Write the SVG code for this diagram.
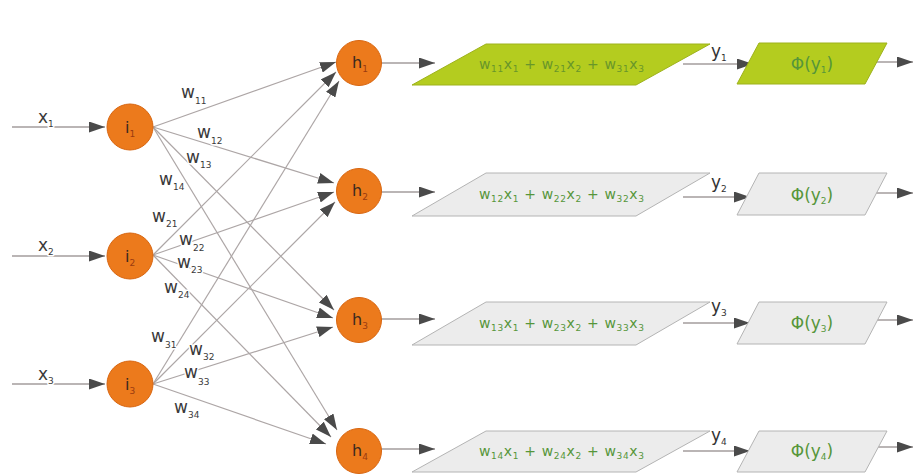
<svg xmlns="http://www.w3.org/2000/svg" width="914" height="476" viewBox="0 0 914 476">
  <style>
    .wire { stroke: #ada6a6; stroke-width: 1.2; fill: none; }
    .flow { stroke: #a39c9c; stroke-width: 1.3; fill: none; }
    .neuron { fill: #ec7a1c; stroke: #d8650f; stroke-width: 1; }
    .nl { font-family: "DejaVu Sans", sans-serif; font-size: 16px; fill: #3a2a20; }
    .ns { font-size: 9px; fill: #9a3a10; }
    .wl { font-family: "DejaVu Sans", sans-serif; font-size: 17px; fill: #3a3a3a; stroke: #ffffff; stroke-width: 3; stroke-linejoin: round; paint-order: stroke; }
    .sb { font-size: 9px; }
    .sum-hot { fill: #b4cc1f; stroke: #9eb21c; stroke-width: 1; }
    .sum { fill: #ececec; stroke: #b4b4b4; stroke-width: 1; }
    .ft { font-family: "DejaVu Sans", sans-serif; font-size: 14px; fill: #56963a; }
    .ft-hot { fill: #68962a; }
    .pt { font-family: "DejaVu Sans", sans-serif; font-size: 17px; fill: #56963a; }
    .yl { font-family: "DejaVu Sans", sans-serif; font-size: 17px; fill: #333333; }
  </style>
  <defs>
    <marker id="ah" markerUnits="userSpaceOnUse" markerWidth="16" markerHeight="11" viewBox="0 0 16 11" refX="16" refY="5.5" orient="auto">
      <path d="M0,0 L16,5.5 L0,11 z" fill="#4a4a4a"/>
    </marker>
  </defs>

  <!-- connectors -->
  <g id="connectors">
    <!-- inputs -->
    <line class="flow" x1="12" y1="127" x2="105" y2="127" marker-end="url(#ah)"/>
    <line class="flow" x1="12" y1="256" x2="105" y2="256" marker-end="url(#ah)"/>
    <line class="flow" x1="12" y1="384" x2="105" y2="384" marker-end="url(#ah)"/>
    <!-- i1 to hidden -->
    <line class="wire" x1="153" y1="127" x2="336" y2="62" marker-end="url(#ah)"/>
    <line class="wire" x1="153" y1="127" x2="334" y2="183" marker-end="url(#ah)"/>
    <line class="wire" x1="153" y1="127" x2="334" y2="310" marker-end="url(#ah)"/>
    <line class="wire" x1="153" y1="127" x2="337" y2="430" marker-end="url(#ah)"/>
    <!-- i2 to hidden -->
    <line class="wire" x1="153" y1="255" x2="336" y2="72" marker-end="url(#ah)"/>
    <line class="wire" x1="153" y1="255" x2="334" y2="192" marker-end="url(#ah)"/>
    <line class="wire" x1="153" y1="255" x2="333" y2="318" marker-end="url(#ah)"/>
    <line class="wire" x1="153" y1="255" x2="331" y2="437" marker-end="url(#ah)"/>
    <!-- i3 to hidden -->
    <line class="wire" x1="153" y1="384" x2="339" y2="81" marker-end="url(#ah)"/>
    <line class="wire" x1="153" y1="384" x2="335" y2="202" marker-end="url(#ah)"/>
    <line class="wire" x1="153" y1="384" x2="333" y2="327" marker-end="url(#ah)"/>
    <line class="wire" x1="153" y1="384" x2="326" y2="444" marker-end="url(#ah)"/>
    <!-- hidden to weighted sums -->
    <line class="flow" x1="381" y1="63" x2="435" y2="63" marker-end="url(#ah)"/>
    <line class="flow" x1="381" y1="192" x2="435" y2="192" marker-end="url(#ah)"/>
    <line class="flow" x1="381" y1="319" x2="435" y2="319" marker-end="url(#ah)"/>
    <line class="flow" x1="381" y1="449" x2="435" y2="449" marker-end="url(#ah)"/>
    <!-- sums to activations -->
    <line class="flow" x1="683" y1="64" x2="753" y2="64" marker-end="url(#ah)"/>
    <line class="flow" x1="683" y1="197" x2="750" y2="197" marker-end="url(#ah)"/>
    <line class="flow" x1="683" y1="323" x2="750" y2="323" marker-end="url(#ah)"/>
    <line class="flow" x1="683" y1="451" x2="750" y2="451" marker-end="url(#ah)"/>
    <!-- outputs -->
    <line class="flow" x1="868" y1="62" x2="913" y2="62" marker-end="url(#ah)"/>
    <line class="flow" x1="866" y1="193" x2="913" y2="193" marker-end="url(#ah)"/>
    <line class="flow" x1="866" y1="320" x2="913" y2="320" marker-end="url(#ah)"/>
    <line class="flow" x1="866" y1="447" x2="913" y2="447" marker-end="url(#ah)"/>
  </g>

  <!-- input and weight labels -->
  <g id="labels">
    <text class="wl" x="38" y="123">x<tspan class="sb" dy="4">1</tspan></text>
    <text class="wl" x="38" y="251">x<tspan class="sb" dy="4">2</tspan></text>
    <text class="wl" x="38" y="380">x<tspan class="sb" dy="4">3</tspan></text>

    <text class="wl" x="181" y="98">w<tspan class="sb" dy="6">11</tspan></text>
    <text class="wl" x="197" y="138">w<tspan class="sb" dy="6">12</tspan></text>
    <text class="wl" x="186" y="163">w<tspan class="sb" dy="5">13</tspan></text>
    <text class="wl" x="159" y="185">w<tspan class="sb" dy="5">14</tspan></text>
    <text class="wl" x="152" y="222">w<tspan class="sb" dy="5">21</tspan></text>
    <text class="wl" x="179" y="245">w<tspan class="sb" dy="6">22</tspan></text>
    <text class="wl" x="177" y="268">w<tspan class="sb" dy="5">23</tspan></text>
    <text class="wl" x="164" y="293">w<tspan class="sb" dy="5">24</tspan></text>
    <text class="wl" x="151" y="342">w<tspan class="sb" dy="6">31</tspan></text>
    <text class="wl" x="189" y="355">w<tspan class="sb" dy="5">32</tspan></text>
    <text class="wl" x="184" y="378">w<tspan class="sb" dy="7">33</tspan></text>
    <text class="wl" x="174" y="413">w<tspan class="sb" dy="5">34</tspan></text>

    <text class="yl" x="711" y="57">y<tspan class="sb" dy="4">1</tspan></text>
    <text class="yl" x="711" y="188">y<tspan class="sb" dy="4">2</tspan></text>
    <text class="yl" x="711" y="312">y<tspan class="sb" dy="4">3</tspan></text>
    <text class="yl" x="711" y="441">y<tspan class="sb" dy="4">4</tspan></text>
  </g>

  <!-- input neurons -->
  <g id="i1"><circle class="neuron" cx="130" cy="127" r="23"/><text class="nl" x="125" y="133">i<tspan class="ns" dy="4">1</tspan></text></g>
  <g id="i2"><circle class="neuron" cx="130" cy="256" r="23"/><text class="nl" x="125" y="262">i<tspan class="ns" dy="4">2</tspan></text></g>
  <g id="i3"><circle class="neuron" cx="130" cy="384" r="23"/><text class="nl" x="125" y="390">i<tspan class="ns" dy="4">3</tspan></text></g>

  <!-- hidden neurons -->
  <g id="h1"><circle class="neuron" cx="359" cy="63" r="22.5"/><text class="nl" x="352" y="68">h<tspan class="ns" dy="4">1</tspan></text></g>
  <g id="h2"><circle class="neuron" cx="359" cy="191" r="22.5"/><text class="nl" x="352" y="196">h<tspan class="ns" dy="4">2</tspan></text></g>
  <g id="h3"><circle class="neuron" cx="359" cy="320" r="22.5"/><text class="nl" x="352" y="325">h<tspan class="ns" dy="4">3</tspan></text></g>
  <g id="h4"><circle class="neuron" cx="359" cy="451" r="22.5"/><text class="nl" x="352" y="456">h<tspan class="ns" dy="4">4</tspan></text></g>

  <!-- weighted sums -->
  <g id="s1">
    <polygon class="sum-hot" points="486,44 710,44 636,85 412,85"/>
    <text class="ft ft-hot" x="479" y="69" textLength="165" lengthAdjust="spacing">w<tspan class="sb" dy="3">11</tspan><tspan dy="-3">x</tspan><tspan class="sb" dy="3">1</tspan><tspan dy="-3"> + w</tspan><tspan class="sb" dy="3">21</tspan><tspan dy="-3">x</tspan><tspan class="sb" dy="3">2</tspan><tspan dy="-3"> + w</tspan><tspan class="sb" dy="3">31</tspan><tspan dy="-3">x</tspan><tspan class="sb" dy="3">3</tspan></text>
  </g>
  <g id="s2">
    <polygon class="sum" points="486,173 710,173 636,216 412,216"/>
    <text class="ft" x="479" y="199" textLength="165" lengthAdjust="spacing">w<tspan class="sb" dy="3">12</tspan><tspan dy="-3">x</tspan><tspan class="sb" dy="3">1</tspan><tspan dy="-3"> + w</tspan><tspan class="sb" dy="3">22</tspan><tspan dy="-3">x</tspan><tspan class="sb" dy="3">2</tspan><tspan dy="-3"> + w</tspan><tspan class="sb" dy="3">32</tspan><tspan dy="-3">x</tspan><tspan class="sb" dy="3">3</tspan></text>
  </g>
  <g id="s3">
    <polygon class="sum" points="486,302 710,302 636,345 412,345"/>
    <text class="ft" x="479" y="328" textLength="165" lengthAdjust="spacing">w<tspan class="sb" dy="3">13</tspan><tspan dy="-3">x</tspan><tspan class="sb" dy="3">1</tspan><tspan dy="-3"> + w</tspan><tspan class="sb" dy="3">23</tspan><tspan dy="-3">x</tspan><tspan class="sb" dy="3">2</tspan><tspan dy="-3"> + w</tspan><tspan class="sb" dy="3">33</tspan><tspan dy="-3">x</tspan><tspan class="sb" dy="3">3</tspan></text>
  </g>
  <g id="s4">
    <polygon class="sum" points="486,431 710,431 636,472 412,472"/>
    <text class="ft" x="479" y="456" textLength="165" lengthAdjust="spacing">w<tspan class="sb" dy="3">14</tspan><tspan dy="-3">x</tspan><tspan class="sb" dy="3">1</tspan><tspan dy="-3"> + w</tspan><tspan class="sb" dy="3">24</tspan><tspan dy="-3">x</tspan><tspan class="sb" dy="3">2</tspan><tspan dy="-3"> + w</tspan><tspan class="sb" dy="3">34</tspan><tspan dy="-3">x</tspan><tspan class="sb" dy="3">3</tspan></text>
  </g>

  <!-- activations -->
  <g id="a1">
    <polygon class="sum-hot" points="759,43 887,43 865,84 737,84"/>
    <text class="pt ft-hot" x="812" y="70" text-anchor="middle">Φ(y<tspan class="sb" dy="3">1</tspan><tspan dy="-3">)</tspan></text>
  </g>
  <g id="a2">
    <polygon class="sum" points="759,173 887,173 865,215 737,215"/>
    <text class="pt" x="812" y="201" text-anchor="middle">Φ(y<tspan class="sb" dy="3">2</tspan><tspan dy="-3">)</tspan></text>
  </g>
  <g id="a3">
    <polygon class="sum" points="759,302 887,302 865,344 737,344"/>
    <text class="pt" x="812" y="329" text-anchor="middle">Φ(y<tspan class="sb" dy="3">3</tspan><tspan dy="-3">)</tspan></text>
  </g>
  <g id="a4">
    <polygon class="sum" points="759,431 887,431 865,472 737,472"/>
    <text class="pt" x="812" y="457" text-anchor="middle">Φ(y<tspan class="sb" dy="3">4</tspan><tspan dy="-3">)</tspan></text>
  </g>
</svg>
